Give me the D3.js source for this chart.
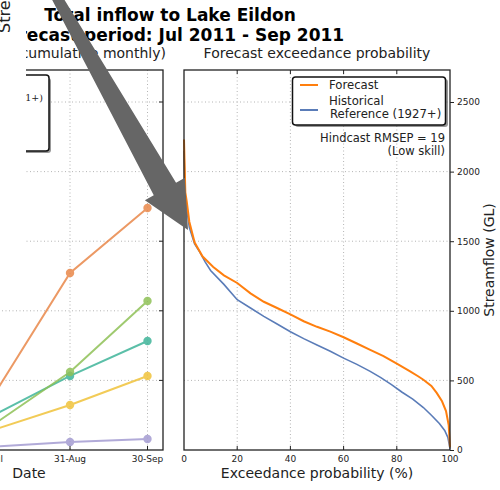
<!DOCTYPE html>
<html>
<head>
<meta charset="utf-8">
<script src="https://cdn.jsdelivr.net/npm/d3@7"></script>
<style>
body { margin: 0; background: #fff; }
svg { display: block; font-family: "DejaVu Sans", sans-serif; }
</style>
</head>
<body>
<script>
// exceedance curves (percent, GL)
const fcProb = [0, 0.5, 1, 2, 4, 7, 11, 15, 20, 25, 30, 35, 40, 45, 50, 55, 60, 65, 70, 75, 80, 85, 88, 90, 93, 95, 97, 98.5, 99.5, 100];
const fcFlow = [2230, 1850, 1790, 1640, 1490, 1390, 1315, 1255, 1200, 1125, 1065, 1020, 975, 925, 885, 850, 810, 765, 720, 675, 620, 565, 530, 505, 460, 410, 350, 280, 180, 20];
const histProb = [0, 0.5, 1, 2, 4, 6, 8, 10, 15, 20, 25, 30, 35, 40, 45, 50, 55, 60, 65, 70, 74, 78, 82, 86, 90, 93, 96, 98, 99.2, 100];
const histFlow = [2150, 1800, 1740, 1600, 1480, 1420, 1350, 1290, 1190, 1080, 1020, 960, 905, 850, 800, 755, 710, 660, 615, 565, 520, 470, 415, 365, 305, 250, 190, 140, 90, 10];

// cumulative monthly panel
const monthDates = ["2011-07-31", "2011-08-31", "2011-09-30"];
const monthLabels = ["31-Jul", "31-Aug", "30-Sep"];
const cumSeries = [
    [22, 57, 79],
    [136, 323, 532],
    [237, 532, 783],
    [165, 560, 1070],
    [350, 1272, 1739]
];
const cumColors = ["#a49cd2", "#f0c33a", "#3fb59a", "#8fc157", "#e9884a"];

const flowTicks = [0, 500, 1000, 1500, 2000, 2500];
const probTicks = [0, 20, 40, 60, 80, 100];

const width = 500, height = 490;
const yTop = 70, yBottom = 450;
const rightP = {left: 184, right: 450};
const leftP = {left: -103, right: 163};

const svg = d3.select("body").append("svg")
    .attr("width", width)
    .attr("height", height);

let yScale = d3.scaleLinear().domain([0, 2730]).range([yBottom, yTop]);
let xProb = d3.scaleLinear().domain([0, 100]).range([rightP.left, rightP.right]);
let parse = d3.timeParse("%Y-%m-%d");
let xDate = d3.scaleTime()
    .domain([parse("2011-06-25"), parse("2011-10-06")])
    .range([leftP.left, leftP.right]);

const gridStyle = sel => sel.attr("stroke", "#b4b4b4").attr("stroke-width", 1).attr("stroke-dasharray", "1,2.5");

// ---- left panel ----
let lg = svg.append("g");
lg.selectAll("line.hg").data(flowTicks.slice(1)).enter().append("line")
    .attr("x1", leftP.left).attr("x2", leftP.right)
    .attr("y1", d => yScale(d)).attr("y2", d => yScale(d))
    .call(gridStyle);
lg.selectAll("line.vg").data(monthDates).enter().append("line")
    .attr("x1", d => xDate(parse(d))).attr("x2", d => xDate(parse(d)))
    .attr("y1", yTop).attr("y2", yBottom)
    .call(gridStyle);

let lineL = d3.line()
    .x((d, i) => xDate(parse(monthDates[i])))
    .y(d => yScale(d));

cumSeries.forEach((s, k) => {
    let g = lg.append("g").attr("opacity", 0.85);
    g.append("path").attr("d", lineL(s))
        .attr("fill", "none").attr("stroke", cumColors[k]).attr("stroke-width", 2);
    g.selectAll("circle").data(s).enter().append("circle")
        .attr("cx", (d, i) => xDate(parse(monthDates[i])))
        .attr("cy", d => yScale(d))
        .attr("r", 4.2)
        .attr("fill", cumColors[k]);
});

// left ticks (inward on right side)
lg.selectAll("line.rt").data(flowTicks.slice(1)).enter().append("line")
    .attr("x1", leftP.right - 4).attr("x2", leftP.right)
    .attr("y1", d => yScale(d)).attr("y2", d => yScale(d))
    .attr("stroke", "#222");
lg.selectAll("line.bt").data(monthDates).enter().append("line")
    .attr("x1", d => xDate(parse(d))).attr("x2", d => xDate(parse(d)))
    .attr("y1", yBottom - 4).attr("y2", yBottom)
    .attr("stroke", "#222");
lg.append("rect")
    .attr("x", leftP.left).attr("y", yTop)
    .attr("width", leftP.right - leftP.left).attr("height", yBottom - yTop)
    .attr("fill", "none").attr("stroke", "#222").attr("stroke-width", 1.3);
lg.selectAll("text.xl").data(monthDates).enter().append("text")
    .attr("x", d => xDate(parse(d))).attr("y", 462)
    .attr("text-anchor", "middle").attr("font-size", 9).attr("fill", "#222")
    .text((d, i) => monthLabels[i]);
lg.append("text").attr("x", 29).attr("y", 478)
    .attr("text-anchor", "middle").attr("font-size", 14).attr("fill", "#222")
    .text("Date");
lg.append("text").attr("x", 166).attr("y", 58)
    .attr("text-anchor", "end").attr("font-size", 14).attr("fill", "#222")
    .text("Forecast (cumulative monthly)");

// left legend
lg.append("rect").attr("x", -70).attr("y", 78).attr("width", 121).attr("height", 75)
    .attr("rx", 3).attr("fill", "#444").attr("opacity", 0.55);
lg.append("rect").attr("x", -72).attr("y", 75).attr("width", 121).attr("height", 76)
    .attr("rx", 3).attr("fill", "#fff").attr("stroke", "#111").attr("stroke-width", 1.5);
lg.append("text").attr("x", 43).attr("y", 101)
    .attr("text-anchor", "end").attr("font-size", 9.5)
    .attr("font-family", "DejaVu Serif").attr("fill", "#222")
    .text("Reference (1891+)");

// ---- right panel ----
let rg = svg.append("g");
rg.selectAll("line.hg").data(flowTicks.slice(1)).enter().append("line")
    .attr("x1", rightP.left).attr("x2", rightP.right)
    .attr("y1", d => yScale(d)).attr("y2", d => yScale(d))
    .call(gridStyle);
rg.selectAll("line.vg").data(probTicks.slice(1, -1)).enter().append("line")
    .attr("x1", d => xProb(d)).attr("x2", d => xProb(d))
    .attr("y1", yTop).attr("y2", yBottom)
    .call(gridStyle);

let lineR = d3.line().x(d => xProb(d[0])).y(d => yScale(d[1]));
rg.append("path").attr("d", lineR(d3.zip(histProb, histFlow)))
    .attr("fill", "none").attr("stroke", "#5a7cb8").attr("stroke-width", 1.6);
rg.append("path").attr("d", lineR(d3.zip(fcProb, fcFlow)))
    .attr("fill", "none").attr("stroke", "#ff7f0e").attr("stroke-width", 2);

rg.selectAll("line.tt").data(probTicks.slice(1, -1)).enter().append("line")
    .attr("x1", d => xProb(d)).attr("x2", d => xProb(d))
    .attr("y1", yTop).attr("y2", yTop + 4).attr("stroke", "#222");
rg.selectAll("line.bt").data(probTicks.slice(1, -1)).enter().append("line")
    .attr("x1", d => xProb(d)).attr("x2", d => xProb(d))
    .attr("y1", yBottom - 4).attr("y2", yBottom).attr("stroke", "#222");
rg.append("rect")
    .attr("x", rightP.left).attr("y", yTop)
    .attr("width", rightP.right - rightP.left).attr("height", yBottom - yTop)
    .attr("fill", "none").attr("stroke", "#222").attr("stroke-width", 1.3);

let yAxis = d3.axisRight(yScale).tickValues(flowTicks).tickFormat(d3.format("d"))
    .tickSize(4).tickPadding(3);
rg.append("g").attr("transform", `translate(${rightP.right},0)`)
    .call(yAxis)
    .call(g => g.select(".domain").remove())
    .call(g => g.selectAll("text").attr("font-size", 9).attr("font-family", "DejaVu Sans").attr("fill", "#222"))
    .call(g => g.selectAll("line").attr("stroke", "#222"));
rg.selectAll("text.xl").data(probTicks).enter().append("text")
    .attr("x", d => xProb(d)).attr("y", 462)
    .attr("text-anchor", "middle").attr("font-size", 9).attr("fill", "#222")
    .text(d => d);
rg.append("text").attr("x", (rightP.left + rightP.right) / 2).attr("y", 478)
    .attr("text-anchor", "middle").attr("font-size", 14).attr("fill", "#222")
    .text("Exceedance probability (%)");
rg.append("text").attr("transform", `translate(494,${(yTop + yBottom) / 2}) rotate(-90)`)
    .attr("text-anchor", "middle").attr("font-size", 14).attr("fill", "#222")
    .text("Streamflow (GL)");
rg.append("text").attr("x", (rightP.left + rightP.right) / 2).attr("y", 58)
    .attr("text-anchor", "middle").attr("font-size", 14).attr("fill", "#222")
    .text("Forecast exceedance probability");

// right legend
rg.append("rect").attr("x", 295).attr("y", 79).attr("width", 153).attr("height", 48)
    .attr("rx", 3).attr("fill", "#444").attr("opacity", 0.55);
rg.append("rect").attr("x", 292.5).attr("y", 77).attr("width", 153).attr("height", 48)
    .attr("rx", 3).attr("fill", "#fff").attr("stroke", "#111").attr("stroke-width", 1.5);
let legendItems = [
    {label: ["Forecast"], color: "#ff7f0e", y: 85},
    {label: ["Historical", "Reference (1927+)"], color: "#5a7cb8", y: 110}
];
legendItems.forEach(it => {
    rg.append("line").attr("x1", 300).attr("x2", 318).attr("y1", it.y).attr("y2", it.y)
        .attr("stroke", it.color).attr("stroke-width", 2);
    it.label.forEach((t, j) => {
        rg.append("text")
            .attr("x", 329 + j).attr("y", it.label.length == 1 ? it.y + 4 : it.y - 5 + j * 13)
            .attr("font-size", 11.7).attr("fill", "#222").text(t);
    });
});
rg.append("text").attr("x", 445).attr("y", 142)
    .attr("text-anchor", "end").attr("font-size", 11.5).attr("fill", "#222")
    .text("Hindcast RMSEP = 19");
rg.append("text").attr("x", 445).attr("y", 155)
    .attr("text-anchor", "end").attr("font-size", 11.5).attr("fill", "#222")
    .text("(Low skill)");

// title
svg.append("text").attr("x", 170).attr("y", 21)
    .attr("text-anchor", "middle").attr("font-size", 17).attr("font-weight", "bold")
    .text("Total inflow to Lake Eildon");
svg.append("text").attr("x", 170).attr("y", 41)
    .attr("text-anchor", "middle").attr("font-size", 17).attr("font-weight", "bold")
    .text("Forecast period: Jul 2011 - Sep 2011");

// white patch on the left edge + stray label
svg.append("rect").attr("x", -5).attr("y", 24).attr("width", 31).attr("height", 258).attr("fill", "#fff");
svg.append("text").attr("transform", "translate(10,33) rotate(-90)")
    .attr("font-size", 16).attr("fill", "#222").text("Streamflow (GL)");

// big arrow annotation (tapered "fancy" style)
const arrowTail = [47, -20], arrowTip = [188, 230];
const tailHalf = 4.6, baseHalf = 12.8, headHalf = 23, headLen = 47;
let dx = arrowTip[0] - arrowTail[0], dy = arrowTip[1] - arrowTail[1];
let len = Math.hypot(dx, dy);
let ux = dx / len, uy = dy / len, px = -uy, py = ux;
let bx = arrowTip[0] - ux * headLen, by = arrowTip[1] - uy * headLen;
let pts = [
    [arrowTail[0] + px * tailHalf, arrowTail[1] + py * tailHalf],
    [bx + px * baseHalf, by + py * baseHalf],
    [bx + px * headHalf, by + py * headHalf],
    arrowTip,
    [bx - px * headHalf, by - py * headHalf],
    [bx - px * baseHalf, by - py * baseHalf],
    [arrowTail[0] - px * tailHalf, arrowTail[1] - py * tailHalf]
];
svg.append("polygon").attr("points", pts.map(p => p.join(",")).join(" "))
    .attr("fill", "#666");
</script>
</body>
</html>
